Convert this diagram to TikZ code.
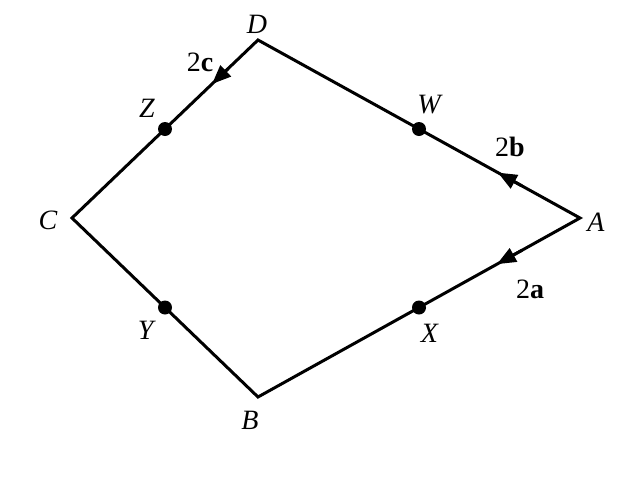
\documentclass[tikz,border=0pt]{standalone}
\usepackage{fontspec}
\setmainfont{Liberation Serif}
\usetikzlibrary{arrows.meta,calc}

\begin{document}
\begin{tikzpicture}[x=1pt,y=-1pt,line width=3pt,
    every node/.style={font=\fontsize{28}{32}\selectfont},
    dot/.style={circle,fill,inner sep=0pt,minimum size=14pt},
    tip/.style={-{Triangle[length=19pt,width=15pt]}}]
            \useasboundingbox (0,0) rectangle (625,480);
            \coordinate (A) at (580,218);
            \coordinate (B) at (258,397);
            \coordinate (C) at (72,218);
            \coordinate (D) at (258,40);
            \draw[line join=miter] (A) -- (D) -- (C) -- (B) -- cycle;
            \node[dot] (w) at ($(D)!0.5!(A)$) {};
            \node[dot] (z) at ($(D)!0.5!(C)$) {};
            \node[dot] (y) at ($(C)!0.5!(B)$) {};
            \node[dot] (x) at ($(B)!0.5!(A)$) {};
            \draw[tip] ($(A)!0.18!(D)$) -- ($(A)!0.255!(D)$);
            \draw[tip] ($(A)!0.18!(B)$) -- ($(A)!0.258!(B)$);
            \draw[tip] ($(D)!0.16!(C)$) -- ($(D)!0.247!(C)$);
            \node at (596,222) {\textit{A}};
            \node at (250,420) {\textit{B}};
            \node at (48,220) {\textit{C}};
            \node at (257,24) {\textit{D}};
            \node at (430,105) {\textit{W}};
            \node at (430,333) {\textit{X}};
            \node at (147,330) {\textit{Y}};
            \node at (147,108) {\textit{Z}};
            \node at (510,147) {2\textbf{b}};
            \node at (530,289) {2\textbf{a}};
            \node at (200,62) {2\textbf{c}};
        \end{tikzpicture}
\end{document}
